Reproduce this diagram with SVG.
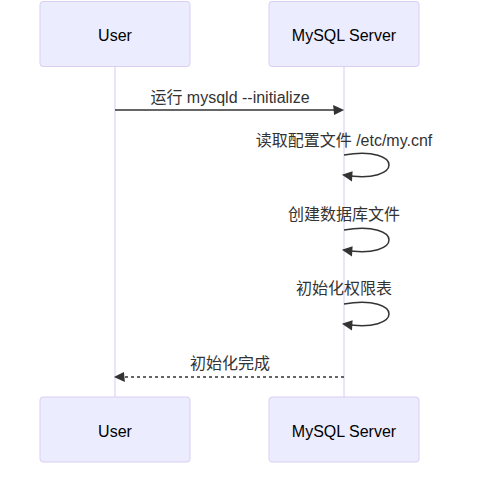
<svg xmlns="http://www.w3.org/2000/svg" width="482" height="478" viewBox="0 0 482 478">
<style>
.actor{fill:#ECECFF;stroke:#DACEF3;stroke-width:1}
.life{stroke:#D6CAF2;stroke-width:1}
.atext{font-family:"Liberation Sans","Noto Sans CJK SC",sans-serif;font-size:16px;fill:#000;text-anchor:middle}
.mtext{font-family:"Liberation Sans","Noto Sans CJK SC",sans-serif;font-size:16px;fill:#333;text-anchor:middle}
.msg{stroke:#333;stroke-width:1.5;fill:none}
.dash{stroke-dasharray:3,3}
</style>
<defs>
<marker id="arrowhead" refX="7.9" refY="5" markerUnits="userSpaceOnUse" markerWidth="12" markerHeight="12" orient="auto-start-reverse" overflow="visible">
<path d="M -1 0 L 10 5 L 0 10 z" fill="#333" stroke="none"/>
</marker>
</defs>
<rect width="482" height="478" fill="#fff"/>
<g id="lifelines">
<line class="life" x1="115" y1="66" x2="115" y2="397"/>
<line class="life" x1="344" y1="66" x2="344" y2="397"/>
</g>
<g id="actor-user-top">
<rect class="actor" x="40" y="1.5" width="150" height="65" rx="3"/>
<text class="atext" x="115" y="41">User</text>
</g>
<g id="actor-mysql-top">
<rect class="actor" x="269" y="1.5" width="150" height="65" rx="3"/>
<text class="atext" x="344" y="41">MySQL Server</text>
</g>
<g id="actor-user-bottom">
<rect class="actor" x="40" y="397" width="150" height="65" rx="3"/>
<text class="atext" x="115" y="436.5">User</text>
</g>
<g id="actor-mysql-bottom">
<rect class="actor" x="269" y="397" width="150" height="65" rx="3"/>
<text class="atext" x="344" y="436.5">MySQL Server</text>
</g>
<g id="connectors">
<line class="msg" x1="115" y1="110" x2="342" y2="110" marker-end="url(#arrowhead)"/>
<path class="msg" d="M 344,155 C 404,145 404,185 344,175" marker-end="url(#arrowhead)"/>
<path class="msg" d="M 344,230 C 404,220 404,260 344,250" marker-end="url(#arrowhead)"/>
<path class="msg" d="M 344,304 C 404,294 404,334 344,324" marker-end="url(#arrowhead)"/>
<line class="msg dash" x1="344" y1="377" x2="116" y2="377" marker-end="url(#arrowhead)"/>
</g>
<g id="labels">
<text class="mtext" x="230" y="103">运行 mysqld --initialize</text>
<text class="mtext" x="344" y="146">读取配置文件 /etc/my.cnf</text>
<text class="mtext" x="344" y="220">创建数据库文件</text>
<text class="mtext" x="344" y="294">初始化权限表</text>
<text class="mtext" x="230" y="369">初始化完成</text>
</g>
</svg>
